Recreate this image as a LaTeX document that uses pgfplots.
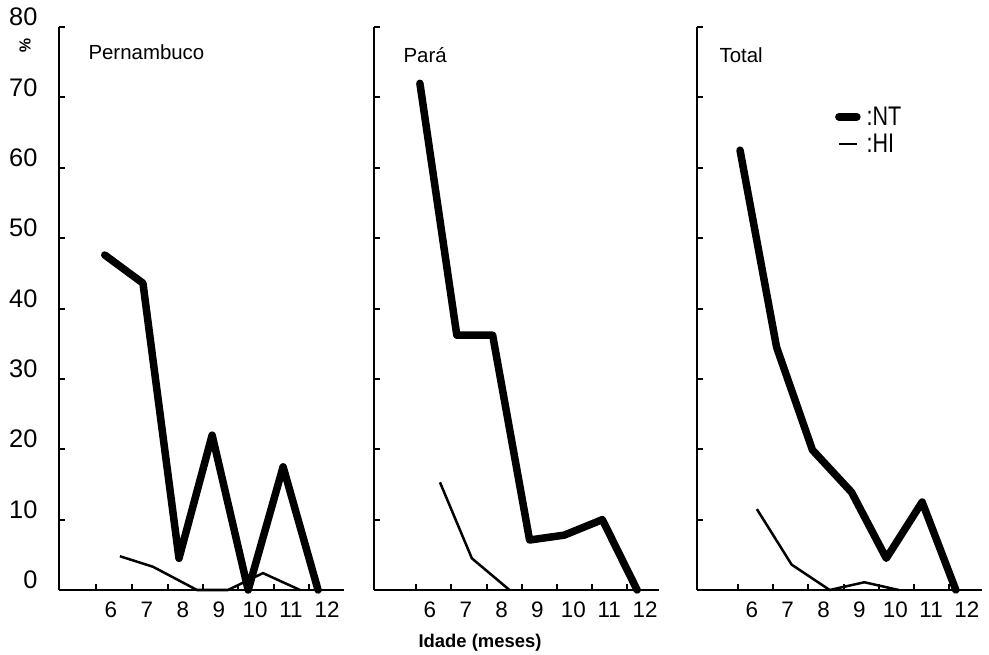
\documentclass[border=0pt]{standalone}
\usepackage{pgfplots}
\pgfplotsset{compat=1.18}
\usepackage{fontspec}
\setmainfont{Liberation Sans}
\newfontfamily\condfont[FakeStretch=0.8]{Liberation Sans}

\pgfplotsset{
  panel/.style={
    scale only axis, width=285bp, height=563bp,
    anchor=south west,
    ymin=0, ymax=80,
    axis x line=bottom, axis y line=left,
    axis line style={line width=2.5bp, -},
    tick align=inside,
    xtick={6,...,12},
    every major x tick/.append style={draw=none},
    minor xtick={5.6,6.59,7.58,8.56,9.54,10.52,11.5},
    ytick={0,10,...,80},
    major tick length=6bp, minor tick length=6bp,
    every tick/.style={line width=2bp, black},
    x tick label style={font=\fontsize{22.5}{22.5}\selectfont, anchor=north,
      text height=16.2bp, text depth=0pt, yshift=-8bp},
    y tick label style={font=\fontsize{25.5}{25.5}\selectfont, yshift=10bp, xshift=-18bp},
    /pgf/number format/assume math mode=true,
    clip=false,
  },
  nt/.style={black, line width=7.5bp, line join=round, line cap=round},
  hi/.style={black, line width=2.5bp, line join=round},
}

\begin{document}
\begin{tikzpicture}
\path[use as bounding box] (0,0) rectangle (989bp,655bp);

% Pernambuco
\begin{axis}[panel, at={(59bp,65bp)}, xmin=4.56, xmax=12.47]
  \addplot[nt] coordinates {(5.83,47.6) (6.89,43.6) (7.89,4.5) (8.81,22) (9.81,0) (10.78,17.5) (11.75,0)};
  \addplot[hi] coordinates {(6.25,4.8) (7.17,3.3) (8.39,0) (9.25,0) (10.22,2.4) (11.25,0)};
\end{axis}

% Para
\begin{axis}[panel, at={(374bp,65bp)}, xmin=4.44, xmax=12.39, yticklabels={}]
  \addplot[nt] coordinates {(5.72,72) (6.75,36.2) (7.75,36.2) (8.78,7.1) (9.75,7.8) (10.81,10) (11.78,0)};
  \addplot[hi] coordinates {(6.28,15.3) (7.17,4.5) (8.22,0)};
\end{axis}

% Total
\begin{axis}[panel, at={(697bp,65bp)}, xmin=4.47, xmax=12.42, yticklabels={},
  legend style={at={(0.484,0.862)}, anchor=north west, draw=none, fill=none,
    inner sep=0pt, row sep=3bp, font=\condfont\fontsize{27}{27}\selectfont,
    /tikz/column 1/.style={column sep=4bp}},
  legend cell align=left,
  legend image code/.code={\draw[#1] (3.5bp,0bp) -- (21.5bp,0bp);}]
  \addplot[nt] coordinates {(5.67,62.5) (6.69,34.5) (7.69,19.9) (8.78,13.9) (9.75,4.5) (10.75,12.5) (11.69,0)};
  \addlegendentry{:NT}
  \addplot[hi] coordinates {(6.14,11.5) (7.11,3.6) (8.17,0) (9.14,1.1) (9.92,0.2) (10.1,0)};
  \addlegendentry{:HI}
\end{axis}

\node[anchor=base west, font=\fontsize{20.5}{20.5}\selectfont] at (85bp,595bp) {Pernambuco};
\node[anchor=base west, font=\fontsize{20.5}{20.5}\selectfont] at (400bp,592bp) {Pará};
\node[anchor=base west, font=\fontsize{20.5}{20.5}\selectfont] at (716bp,592bp) {Total};
\node[font=\bfseries\fontsize{16}{16}\selectfont, rotate=-90] at (25bp,609bp) {\%};
\node[anchor=base, font=\bfseries\fontsize{18.5}{18.5}\selectfont] at (480bp,8bp) {Idade (meses)};
\end{tikzpicture}
\end{document}
